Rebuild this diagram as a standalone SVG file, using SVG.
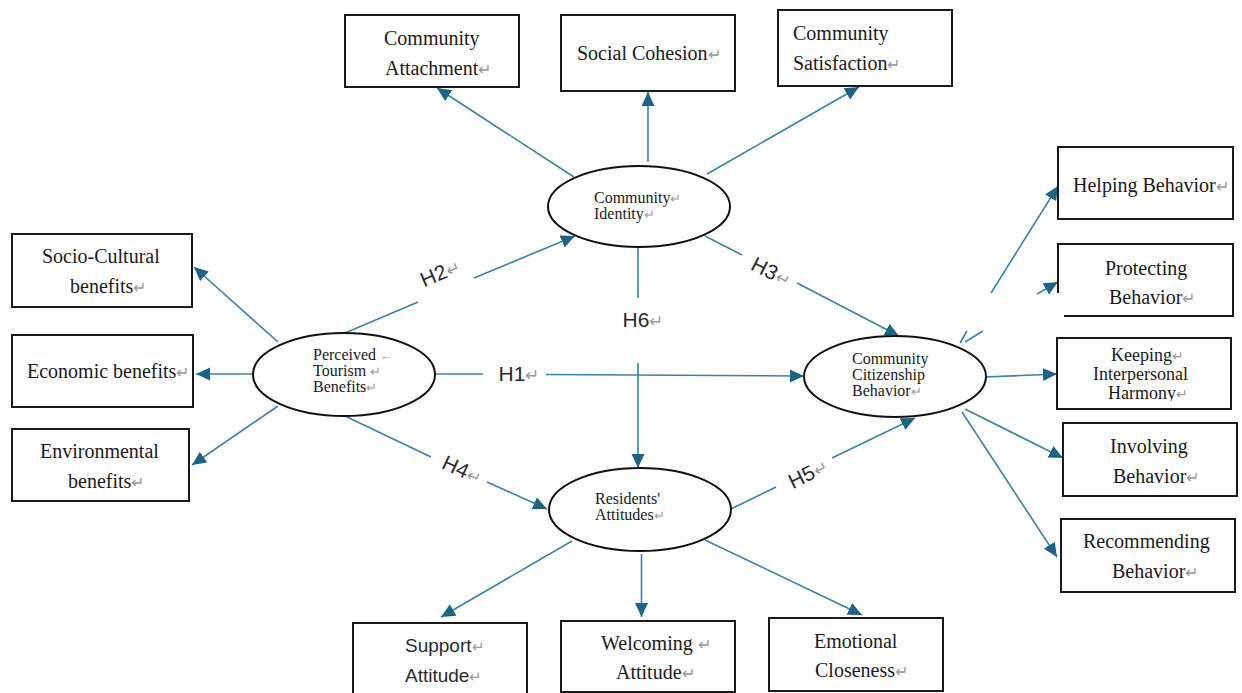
<svg xmlns="http://www.w3.org/2000/svg" width="1242" height="693" viewBox="0 0 1242 693">
<style>
.box{fill:#fff;stroke:#1a1a1a;stroke-width:2}
.ell{fill:#fff;stroke:#111;stroke-width:2}
.bt{font-family:"Liberation Serif","Times New Roman",serif;font-size:20px;fill:#1a1a1a}
.kt{font-family:"Liberation Serif","Times New Roman",serif;font-size:18px;fill:#1a1a1a}
.et{font-family:"Liberation Serif","Times New Roman",serif;font-size:16px;fill:#1a1a1a}
.st{font-family:"Liberation Sans",Arial,sans-serif;font-size:19px;fill:#2a2a2a}
.hl{font-family:"Liberation Sans",Arial,sans-serif;font-size:21px;fill:#2a2a2a}
.rm{fill:#999;font-size:0.8em}
.cn line{stroke:#3a82a8;stroke-width:1.6;fill:none}
</style>
<defs>
<marker id="ah" markerUnits="userSpaceOnUse" markerWidth="16" markerHeight="14" refX="14" refY="6.5" orient="auto">
<path d="M0,0 L14,6.5 L0,13 z" fill="#1c6385"/>
</marker>
<clipPath id="kc"><rect x="1057" y="338" width="174" height="63"/></clipPath>
</defs>

<g id="connectors" class="cn">
<line x1="574" y1="177" x2="437" y2="88" marker-end="url(#ah)"/>
<line x1="648" y1="162" x2="648" y2="92" marker-end="url(#ah)"/>
<line x1="707" y1="174" x2="859" y2="87" marker-end="url(#ah)"/>
<line x1="278" y1="342" x2="194" y2="267" marker-end="url(#ah)"/>
<line x1="253" y1="374" x2="196" y2="374" marker-end="url(#ah)"/>
<line x1="278" y1="406" x2="192" y2="465" marker-end="url(#ah)"/>
<line x1="345" y1="333" x2="418" y2="302"/>
<line x1="474" y1="278" x2="575" y2="236" marker-end="url(#ah)"/>
<line x1="705" y1="236" x2="742" y2="255"/>
<line x1="797" y1="283" x2="899" y2="336" marker-end="url(#ah)"/>
<line x1="638" y1="247" x2="638" y2="298"/>
<line x1="638" y1="363" x2="638" y2="468" marker-end="url(#ah)"/>
<line x1="435" y1="374" x2="483" y2="374"/>
<line x1="546" y1="374.5" x2="804" y2="376" marker-end="url(#ah)"/>
<line x1="345" y1="416" x2="431" y2="457"/>
<line x1="487" y1="482" x2="547" y2="509" marker-end="url(#ah)"/>
<line x1="731" y1="509" x2="776" y2="487"/>
<line x1="832" y1="458" x2="915" y2="418" marker-end="url(#ah)"/>
<line x1="991" y1="293" x2="1058" y2="186" marker-end="url(#ah)"/>
<line x1="1037" y1="294" x2="1058" y2="282" marker-end="url(#ah)"/>
<line x1="960" y1="343" x2="967" y2="331"/>
<line x1="965" y1="342" x2="983" y2="331"/>
<line x1="985" y1="377" x2="1057" y2="374" marker-end="url(#ah)"/>
<line x1="965" y1="409" x2="1063" y2="458" marker-end="url(#ah)"/>
<line x1="962" y1="412" x2="1057" y2="557" marker-end="url(#ah)"/>
<line x1="572" y1="541" x2="441" y2="617" marker-end="url(#ah)"/>
<line x1="641.5" y1="554" x2="641.5" y2="617" marker-end="url(#ah)"/>
<line x1="705" y1="540" x2="862" y2="615" marker-end="url(#ah)"/>
</g>

<g id="labels">
<text class="hl" x="440" y="280" text-anchor="middle" transform="rotate(-23 440 273)">H2<tspan class="rm">↵</tspan></text>
<text class="hl" x="771" y="279" text-anchor="middle" transform="rotate(27 771 272)">H3<tspan class="rm">↵</tspan></text>
<text class="hl" x="643" y="327" text-anchor="middle">H6<tspan class="rm">↵</tspan></text>
<text class="hl" x="519" y="381" text-anchor="middle">H1<tspan class="rm">↵</tspan></text>
<text class="hl" x="462" y="477" text-anchor="middle" transform="rotate(25 462 470)">H4<tspan class="rm">↵</tspan></text>
<text class="hl" x="808" y="481" text-anchor="middle" transform="rotate(-26 808 474)">H5<tspan class="rm">↵</tspan></text>
</g>

<g id="community-attachment">
<rect class="box" x="345" y="15" width="174" height="72"/>
<text class="bt" x="384" y="45">Community</text>
<text class="bt" x="385" y="75">Attachment<tspan class="rm">↵</tspan></text>
</g>
<g id="social-cohesion">
<rect class="box" x="561" y="15" width="174" height="76"/>
<text class="bt" x="577" y="60">Social Cohesion<tspan class="rm">↵</tspan></text>
</g>
<g id="community-satisfaction">
<rect class="box" x="778" y="10" width="174" height="76"/>
<text class="bt" x="793" y="40">Community</text>
<text class="bt" x="793" y="70">Satisfaction<tspan class="rm">↵</tspan></text>
</g>

<g id="socio-cultural-benefits">
<rect class="box" x="12" y="234" width="180" height="73"/>
<text class="bt" x="42" y="263">Socio-Cultural</text>
<text class="bt" x="70" y="293">benefits<tspan class="rm">↵</tspan></text>
</g>
<g id="economic-benefits">
<rect class="box" x="12" y="335" width="181" height="72"/>
<text class="bt" x="27" y="378">Economic benefits<tspan class="rm">↵</tspan></text>
</g>
<g id="environmental-benefits">
<rect class="box" x="12" y="429" width="177" height="72"/>
<text class="bt" x="40" y="458">Environmental</text>
<text class="bt" x="68" y="488">benefits<tspan class="rm">↵</tspan></text>
</g>

<g id="helping-behavior">
<rect class="box" x="1058" y="147" width="175" height="72"/>
<text class="bt" x="1073" y="192">Helping Behavior<tspan class="rm">↵</tspan></text>
</g>
<g id="protecting-behavior">
<path class="box" d="M1064,316 H1233 V244 H1058 V293" fill="none"/>
<text class="bt" x="1105" y="275">Protecting</text>
<text class="bt" x="1109" y="304">Behavior<tspan class="rm">↵</tspan></text>
</g>
<g id="keeping-interpersonal-harmony">
<rect class="box" x="1057" y="338" width="174" height="71"/>
<g clip-path="url(#kc)">
<text class="kt" x="1111" y="361">Keeping<tspan class="rm">↵</tspan></text>
<text class="kt" x="1093" y="380">Interpersonal</text>
<text class="kt" x="1108" y="399">Harmony<tspan class="rm">↵</tspan></text>
</g>
</g>
<g id="involving-behavior">
<rect class="box" x="1063" y="423" width="174" height="73"/>
<text class="bt" x="1110" y="453">Involving</text>
<text class="bt" x="1113" y="483">Behavior<tspan class="rm">↵</tspan></text>
</g>
<g id="recommending-behavior">
<rect class="box" x="1061" y="519" width="174" height="73"/>
<text class="bt" x="1083" y="548">Recommending</text>
<text class="bt" x="1112" y="578">Behavior<tspan class="rm">↵</tspan></text>
</g>

<g id="support-attitude">
<rect class="box" x="353" y="623" width="174" height="80"/>
<text class="st" x="405" y="652">Support<tspan class="rm">↵</tspan></text>
<text class="st" x="405" y="682">Attitude<tspan class="rm">↵</tspan></text>
</g>
<g id="welcoming-attitude">
<rect class="box" x="561" y="621" width="174" height="71"/>
<text class="bt" x="601" y="650">Welcoming <tspan class="rm"> ↵</tspan></text>
<text class="bt" x="616" y="679">Attitude<tspan class="rm">↵</tspan></text>
</g>
<g id="emotional-closeness">
<rect class="box" x="769" y="618" width="174" height="73"/>
<text class="bt" x="814" y="648">Emotional</text>
<text class="bt" x="815" y="677">Closeness<tspan class="rm">↵</tspan></text>
</g>

<g id="community-identity">
<ellipse class="ell" cx="639" cy="206.5" rx="91" ry="40.5"/>
<text class="et" x="594" y="203">Community<tspan class="rm">↵</tspan></text>
<text class="et" x="594" y="219">Identity<tspan class="rm">↵</tspan></text>
</g>
<g id="perceived-tourism-benefits">
<ellipse class="ell" cx="344" cy="374.5" rx="91" ry="41.5"/>
<text class="et" x="313" y="360">Perceived <tspan class="rm">←</tspan></text>
<text class="et" x="313" y="376">Tourism <tspan class="rm">↵</tspan></text>
<text class="et" x="313" y="392">Benefits<tspan class="rm">↵</tspan></text>
</g>
<g id="community-citizenship-behavior">
<ellipse class="ell" cx="895" cy="376.5" rx="91" ry="40.5"/>
<text class="et" x="852" y="364">Community</text>
<text class="et" x="852" y="380">Citizenship</text>
<text class="et" x="852" y="396">Behavior<tspan class="rm">↵</tspan></text>
</g>
<g id="residents-attitudes">
<ellipse class="ell" cx="640" cy="509.5" rx="91" ry="41.5"/>
<text class="et" x="595" y="504">Residents'</text>
<text class="et" x="595" y="520">Attitudes<tspan class="rm">↵</tspan></text>
</g>
</svg>
